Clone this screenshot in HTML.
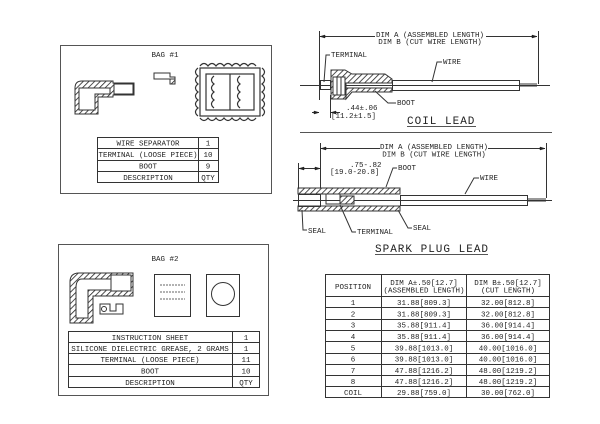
<!DOCTYPE html>
<html><head><meta charset="utf-8"><style>
html,body{margin:0;padding:0;background:#fff;}
svg{display:block;}
text{font-family:"Liberation Mono","DejaVu Sans Mono",monospace;fill:#222;}
</style></head><body>
<svg width="600" height="424" viewBox="0 0 600 424" xmlns="http://www.w3.org/2000/svg">
<defs>
<pattern id="h" width="4" height="4" patternUnits="userSpaceOnUse" patternTransform="rotate(45)">
<rect width="4" height="4" fill="#fff"/><line x1="0" y1="0" x2="0" y2="4" stroke="#222" stroke-width="1.6"/></pattern>
</defs>
<g fill="none" stroke="#333" stroke-width="1">
<rect x="60.5" y="45.5" width="211" height="148" stroke="#555"/>
<rect x="97.5" y="137.5" width="121" height="45"/>
<line x1="198.5" y1="137" x2="198.5" y2="182"/>
<line x1="97" y1="148.5" x2="218" y2="148.5"/>
<line x1="97" y1="160.5" x2="218" y2="160.5"/>
<line x1="97" y1="171.5" x2="218" y2="171.5"/>
<path d="M75 88 Q75 81 82 81 H113 V83 H134 V95 H113 V97 H98 V114 H75 Z" fill="url(#h)"/>
<path d="M79 88 H110 V94 H95 V110 H79 Z" fill="#fff"/>
<rect x="114" y="84" width="19" height="10" fill="#fff"/>
<line x1="79" y1="110" x2="95" y2="110"/>
<path d="M154 73 H170 V77 H175 V84 H170 V79 H154 Z" stroke-width="1"/>
<rect x="170" y="79" width="5" height="5" fill="url(#h)"/>
<g stroke-width="1.2">
<rect x="200" y="68" width="60" height="48"/>
<rect x="206" y="74" width="48" height="36"/>
<path d="M200 66 q4 -5 8 0 q4 -5 8 0 q4 -5 8 0 q4 -5 8 0 q4 -5 8 0 q4 -5 8 0 q4 -5 8 0"/>
<path d="M200 118 q4 5 8 0 q4 5 8 0 q4 5 8 0 q4 5 8 0 q4 5 8 0 q4 5 8 0 q4 5 8 0"/>
<path d="M198 68 q-5 4 0 8 q-5 4 0 8 q-5 4 0 8 q-5 4 0 8 q-5 4 0 8 q-5 4 0 8"/>
<path d="M262 68 q5 4 0 8 q5 4 0 8 q5 4 0 8 q5 4 0 8 q5 4 0 8 q5 4 0 8"/>
<path d="M214 76 q-5 4 0 8 q-5 4 0 8 q-5 4 0 8 q-5 4 0 8"/>
<path d="M240 76 q-5 4 0 8 q-5 4 0 8 q-5 4 0 8 q-5 4 0 8"/>
<line x1="230" y1="74" x2="230" y2="110"/>
</g>
<rect x="58.5" y="244.5" width="210" height="151" stroke="#555"/>
<rect x="68.5" y="331.5" width="191" height="56"/>
<line x1="232.5" y1="331" x2="232.5" y2="387"/>
<line x1="68" y1="342.5" x2="259" y2="342.5"/>
<line x1="68" y1="353.5" x2="259" y2="353.5"/>
<line x1="68" y1="364.5" x2="259" y2="364.5"/>
<line x1="68" y1="376.5" x2="259" y2="376.5"/>
<path d="M70 282 Q70 273 79 273 H133 V296 H93 V323 H70 Z" fill="url(#h)"/>
<path d="M76 288 Q76 279 82 279 H112 V290 H88 V318 H76 Z" fill="#fff"/>
<rect x="111" y="275" width="20" height="16" fill="#fff"/>
<path d="M100 304 H110 V311 H116 V304 H123 V314 H100 Z"/>
<circle cx="104" cy="309" r="2.5"/>
<rect x="154.5" y="274.5" width="36" height="42"/>
<rect x="206.5" y="274.5" width="33" height="42"/>
<circle cx="223" cy="294" r="11.5"/>
<g stroke-dasharray="2 1" stroke-width="0.8"><line x1="160" y1="285" x2="185" y2="285"/><line x1="160" y1="292" x2="185" y2="292"/><line x1="160" y1="299" x2="185" y2="299"/></g>
<line x1="319.5" y1="31" x2="319.5" y2="100"/>
<line x1="538.5" y1="31" x2="538.5" y2="84"/>
<line x1="320" y1="36.5" x2="375" y2="36.5"/>
<line x1="486" y1="36.5" x2="537" y2="36.5"/>
<line x1="300" y1="85.5" x2="550" y2="85.5"/>
<line x1="392" y1="85.5" x2="515" y2="85.5" stroke-dasharray="8 4"/>
<rect x="320.5" y="80.5" width="10" height="9"/>
<path d="M331 70 H345 L352 74 H385 L392 79 V83 H346 V99 H331 Z" fill="url(#h)"/>
<path d="M346 88 H392 V92 H352 L346 99 Z" fill="url(#h)"/>
<rect x="333" y="77" width="12" height="18" fill="#fff"/>
<line x1="337" y1="77" x2="337" y2="95"/><line x1="341" y1="77" x2="341" y2="95"/>
<rect x="392.5" y="80.5" width="127" height="10"/>
<line x1="520" y1="84" x2="537" y2="84"/><line x1="520" y1="86" x2="537" y2="86"/>
<line x1="312" y1="112.5" x2="319" y2="112.5"/>
<line x1="330.5" y1="95" x2="330.5" y2="118"/>
<line x1="330" y1="112.5" x2="340" y2="112.5"/>
<polyline points="324,82 326,55 330,55"/>
<polyline points="432,82 437,62 442,62"/>
<polyline points="375,91 388,103 396,103"/>
<line x1="300" y1="132.5" x2="552" y2="132.5" stroke="#555"/>
<line x1="320.5" y1="143" x2="320.5" y2="188"/>
<line x1="546.5" y1="143" x2="546.5" y2="198"/>
<line x1="321" y1="148.5" x2="380" y2="148.5"/>
<line x1="488" y1="148.5" x2="545" y2="148.5"/>
<line x1="298.5" y1="163" x2="298.5" y2="188"/>
<line x1="299" y1="168.5" x2="320" y2="168.5"/>
<line x1="293" y1="200.5" x2="552" y2="200.5"/>
<line x1="400" y1="200.5" x2="525" y2="200.5" stroke-dasharray="8 4"/>
<path d="M298 188 H400 V194 H298 Z" fill="url(#h)"/>
<path d="M298 206 H400 V211 H298 Z" fill="url(#h)"/>
<rect x="298.5" y="194.5" width="22" height="12"/>
<rect x="326" y="194" width="14" height="10"/>
<rect x="340" y="196" width="14" height="8" fill="url(#h)"/>
<rect x="400.5" y="195.5" width="127" height="10"/>
<line x1="528" y1="199" x2="546" y2="199"/><line x1="528" y1="201" x2="546" y2="201"/>
<polyline points="302,210 303,230 307,230"/>
<polyline points="340,205 352,232 356,232"/>
<polyline points="398,210 408,228 412,228"/>
<polyline points="386,187 393,168 397,168"/>
<polyline points="465,194 474,178 479,178"/>
<rect x="325.5" y="274.5" width="224" height="123"/>
<line x1="381.5" y1="274" x2="381.5" y2="398"/>
<line x1="466.5" y1="274" x2="466.5" y2="398"/>
<line x1="325" y1="296.5" x2="549" y2="296.5"/>
<line x1="325" y1="307.5" x2="549" y2="307.5"/>
<line x1="325" y1="319.5" x2="549" y2="319.5"/>
<line x1="325" y1="330.5" x2="549" y2="330.5"/>
<line x1="325" y1="341.5" x2="549" y2="341.5"/>
<line x1="325" y1="353.5" x2="549" y2="353.5"/>
<line x1="325" y1="364.5" x2="549" y2="364.5"/>
<line x1="325" y1="375.5" x2="549" y2="375.5"/>
<line x1="325" y1="386.5" x2="549" y2="386.5"/>
<line x1="407" y1="126.5" x2="476" y2="126.5" stroke="#555"/>
<line x1="375" y1="254.5" x2="488" y2="254.5" stroke="#555"/>
</g>
<g stroke="#222" fill="#222">
<path d="M320 36.5 l5 -1.5 v3 z M537 36.5 l-5 -1.5 v3 z M321 148.5 l5 -1.5 v3 z M545 148.5 l-5 -1.5 v3 z M299 168.5 l5 -1.5 v3 z M320 168.5 l-5 -1.5 v3 z M319 112.5 l-5 -1.5 v3 z M331 112.5 l5 -1.5 v3 z" stroke-width="0.5"/>
</g>
<g font-size="7.5" text-anchor="middle">
<text x="165" y="57">BAG #1</text>
<text x="148" y="145.5">WIRE SEPARATOR</text><text x="208" y="145.5">1</text>
<text x="148" y="157">TERMINAL (LOOSE PIECE)</text><text x="208" y="157">10</text>
<text x="148" y="168.5">BOOT</text><text x="208" y="168.5">9</text>
<text x="148" y="180">DESCRIPTION</text><text x="208" y="180">QTY</text>
<text x="165" y="261">BAG #2</text>
<text x="150" y="340">INSTRUCTION SHEET</text><text x="246" y="340">1</text>
<text x="150" y="351">SILICONE DIELECTRIC GREASE, 2 GRAMS</text><text x="246" y="351">1</text>
<text x="150" y="362">TERMINAL (LOOSE PIECE)</text><text x="246" y="362">11</text>
<text x="150" y="373.5">BOOT</text><text x="246" y="373.5">10</text>
<text x="150" y="385">DESCRIPTION</text><text x="246" y="385">QTY</text>
<text x="430" y="37">DIM A (ASSEMBLED LENGTH)</text>
<text x="430" y="44">DIM B (CUT WIRE LENGTH)</text>
<text x="434" y="149">DIM A (ASSEMBLED LENGTH)</text>
<text x="434" y="156.5">DIM B (CUT WIRE LENGTH)</text>
<text x="353" y="289">POSITION</text>
<text x="424" y="285">DIM A±.50[12.7]</text><text x="424" y="292.5">(ASSEMBLED LENGTH)</text>
<text x="508" y="285">DIM B±.50[12.7]</text><text x="508" y="292.5">(CUT LENGTH)</text>
<text x="353" y="305">1</text><text x="424" y="305">31.88[809.3]</text><text x="508" y="305">32.00[812.8]</text>
<text x="353" y="316.5">2</text><text x="424" y="316.5">31.88[809.3]</text><text x="508" y="316.5">32.00[812.8]</text>
<text x="353" y="327.5">3</text><text x="424" y="327.5">35.88[911.4]</text><text x="508" y="327.5">36.00[914.4]</text>
<text x="353" y="339">4</text><text x="424" y="339">35.88[911.4]</text><text x="508" y="339">36.00[914.4]</text>
<text x="353" y="350.5">5</text><text x="424" y="350.5">39.88[1013.0]</text><text x="508" y="350.5">40.00[1016.0]</text>
<text x="353" y="361.5">6</text><text x="424" y="361.5">39.88[1013.0]</text><text x="508" y="361.5">40.00[1016.0]</text>
<text x="353" y="373">7</text><text x="424" y="373">47.88[1216.2]</text><text x="508" y="373">48.00[1219.2]</text>
<text x="353" y="384">8</text><text x="424" y="384">47.88[1216.2]</text><text x="508" y="384">48.00[1219.2]</text>
<text x="353" y="395">COIL</text><text x="424" y="395">29.88[759.0]</text><text x="508" y="395">30.00[762.0]</text>
</g>
<g font-size="7.5">
<text x="331" y="57">TERMINAL</text>
<text x="443" y="64">WIRE</text>
<text x="397" y="105">BOOT</text>
<text x="346" y="110">.44±.06</text>
<text x="331" y="118">[11.2±1.5]</text>
<text x="350" y="167">.75-.82</text>
<text x="330" y="174">[19.0-20.8]</text>
<text x="398" y="170">BOOT</text>
<text x="480" y="180">WIRE</text>
<text x="308" y="233">SEAL</text>
<text x="357" y="234">TERMINAL</text>
<text x="413" y="230">SEAL</text>
</g>
<text x="407" y="124" font-size="11" letter-spacing="1">COIL LEAD</text>
<text x="375" y="252" font-size="11" letter-spacing="1">SPARK PLUG LEAD</text>
</svg>
</body></html>
